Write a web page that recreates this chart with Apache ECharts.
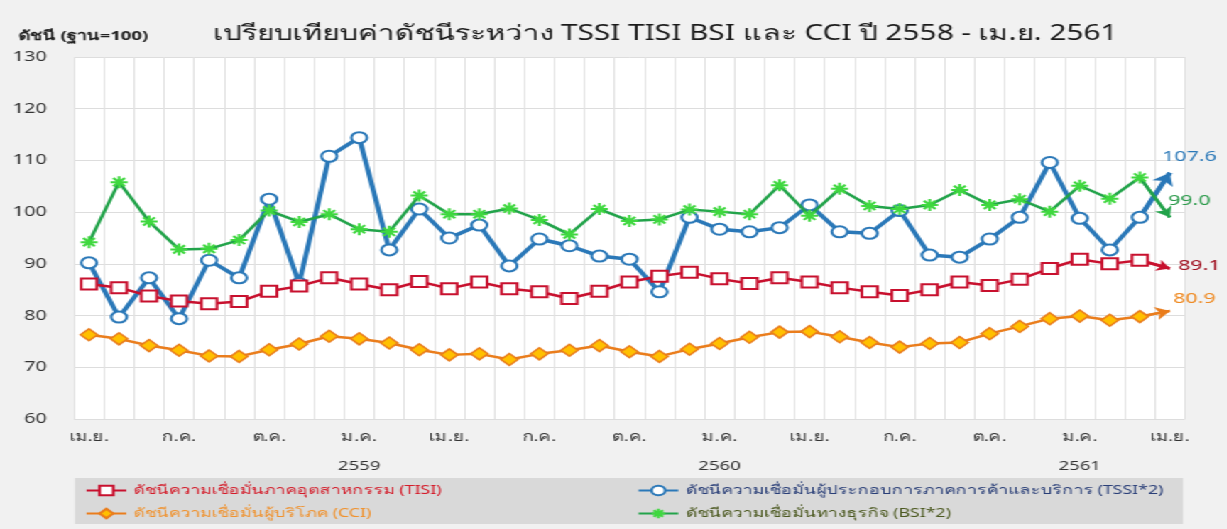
<!DOCTYPE html>
<html>
<head>
<meta charset="utf-8">
<script src="https://cdn.jsdelivr.net/npm/echarts@6/dist/echarts.min.js"></script>
<style>
html,body{margin:0;padding:0;background:#fff;overflow:hidden;}
#wrap{width:1227px;height:529px;overflow:hidden;}
#chart{width:864px;height:529px;transform:scaleX(1.42);transform-origin:0 0;}
</style>
</head>
<body>
<div id="wrap"><div id="chart"></div></div>
<script>
// ---- data ----
const categories = [
  'เม.ย. 2558','พ.ค. 2558','มิ.ย. 2558','ก.ค. 2558','ส.ค. 2558','ก.ย. 2558','ต.ค. 2558','พ.ย. 2558','ธ.ค. 2558',
  'ม.ค. 2559','ก.พ. 2559','มี.ค. 2559','เม.ย. 2559','พ.ค. 2559','มิ.ย. 2559','ก.ค. 2559','ส.ค. 2559','ก.ย. 2559','ต.ค. 2559','พ.ย. 2559','ธ.ค. 2559',
  'ม.ค. 2560','ก.พ. 2560','มี.ค. 2560','เม.ย. 2560','พ.ค. 2560','มิ.ย. 2560','ก.ค. 2560','ส.ค. 2560','ก.ย. 2560','ต.ค. 2560','พ.ย. 2560','ธ.ค. 2560',
  'ม.ค. 2561','ก.พ. 2561','มี.ค. 2561','เม.ย. 2561'
];
const tisi = [86.1,85.4,83.8,82.8,82.3,82.7,84.7,85.7,87.3,86.1,85.0,86.6,85.2,86.5,85.2,84.6,83.3,84.7,86.5,87.6,88.4,87.1,86.2,87.3,86.5,85.4,84.6,83.9,85.0,86.5,85.8,87.0,89.1,90.9,90.0,90.7,89.1];
const tssi = [90.2,79.7,87.3,79.4,90.7,87.3,102.5,86.2,110.8,114.4,92.7,100.6,95.0,97.5,89.6,94.8,93.5,91.5,90.9,84.6,99.0,96.7,96.2,97.0,101.4,96.2,95.9,100.3,91.7,91.3,94.8,99.0,109.6,98.8,92.7,99.0,107.6];
const cci  = [76.3,75.5,74.2,73.3,72.2,72.1,73.4,74.5,76.0,75.5,74.7,73.4,72.4,72.6,71.5,72.6,73.3,74.2,73.0,72.1,73.5,74.6,75.8,76.8,76.9,75.9,74.8,73.9,74.6,74.8,76.5,77.9,79.4,79.9,79.1,79.8,80.9];
const bsi  = [94.2,105.8,98.2,92.8,92.9,94.6,100.3,98.1,99.6,96.7,96.2,103.2,99.6,99.6,100.7,98.5,95.7,100.6,98.3,98.6,100.5,100.1,99.6,105.2,99.3,104.5,101.2,100.6,101.4,104.3,101.4,102.5,100.1,105.1,102.6,106.7,99.0];
const yTicks = [60,70,80,90,100,110,120,130];
const names = {
  tisi: 'ดัชนีความเชื่อมั่นภาคอุตสาหกรรม (TISI)',
  tssi: 'ดัชนีความเชื่อมั่นผู้ประกอบการภาคการค้าและบริการ (TSSI*2)',
  cci:  'ดัชนีความเชื่อมั่นผู้บริโภค (CCI)',
  bsi:  'ดัชนีความเชื่อมั่นทางธุรกิจ (BSI*2)'
};
const titleText = 'เปรียบเทียบค่าดัชนีระหว่าง TSSI TISI BSI และ CCI ปี 2558 - เม.ย. 2561';
const yName = 'ดัชนี (ฐาน=100)';

// ---- chart ----
const S = 1.42; // horizontal stretch of the reference picture
const X = (px) => px / S;
const FONT = '"Noto Sans", "DejaVu Sans", sans-serif';
const chart = echarts.init(document.getElementById('chart'), null, {renderer:'canvas'});
const last = categories.length - 1;
const starPath = 'path://M5,0L5,10M0,5L10,5M1.6,1.6L8.4,8.4M1.6,8.4L8.4,1.6';

function mkData(arr){
  return arr.map((v,i)=> i===last ? {value:v, symbol:'none'} : v);
}
function endLabel(color, off){
  return {show:true, fontFamily:FONT, fontSize:15, color:color, offset:off,
    formatter:(p)=>Number(p.value).toFixed(1)};
}
function lineSeries(key, arr, color, opts){
  return Object.assign({
    name: names[key], type:'line', data: mkData(arr),
    lineStyle:{color:color, width:2.5},
    itemStyle:{color:'#fff', borderColor:color, borderWidth:2},
    emphasis:{disabled:true}
  }, opts);
}
function arrowSeries(arr, color, width, size, z){
  return {
    type:'lines', coordinateSystem:'cartesian2d', silent:true, z:z,
    symbol:['none','arrow'], symbolSize:size,
    lineStyle:{color:color, width:width, opacity:1, curveness:0},
    data:[{coords:[[last-1, arr[last-1]],[last, arr[last]]]}]
  };
}

const option = {
  backgroundColor:'#f1f1f1',
  animation:false,
  textStyle:{fontFamily:FONT},
  title:[
    {text:yName, left:X(12), top:25, textStyle:{fontFamily:FONT, fontSize:13, fontWeight:'bold', color:'#222'}}
  ],
  grid:{left:X(74), right:X(42), top:57, bottom:110, show:true, backgroundColor:'#ffffff', borderWidth:0},
  graphic:[
    {type:'rect', z:-1, shape:{x:X(75), y:478, width:X(1108), height:46}, style:{fill:'#d9d9d9'}},
    {type:'text', x:X(665), y:34, style:{text:titleText, align:'center', verticalAlign:'middle',
      font:'normal 21px ' + FONT, fill:'#1a1a1a'}}
  ],
  legend:[
    {orient:'vertical', left:X(78), top:479, itemGap:10, itemWidth:28, itemHeight:12,
     textStyle:{fontFamily:FONT, fontSize:12.5},
     data:[{name:names.tisi, textStyle:{color:'#d41c2a'}}, {name:names.cci, textStyle:{color:'#f0922e'}}]},
    {orient:'vertical', left:X(630), top:479, itemGap:10, itemWidth:28, itemHeight:12,
     textStyle:{fontFamily:FONT, fontSize:12.5},
     data:[{name:names.tssi, textStyle:{color:'#2a3f78'}}, {name:names.bsi, textStyle:{color:'#4d5a22'}}]}
  ],
  xAxis:{
    type:'category', data:categories, boundaryGap:true,
    axisLine:{show:false}, axisTick:{show:false},
    splitLine:{show:true, interval:0, lineStyle:{color:'#e2e2e2', width:1}},
    axisLabel:{
      interval:2, margin:9, fontFamily:FONT, fontSize:13, color:'#333',
      formatter:(val)=>{
        const parts = val.split(' ');
        if(parts[0]==='ม.ค.') return '{m|'+parts[0]+'}\n{y|'+parts[1]+'}';
        return '{m|'+parts[0]+'}';
      },
      rich:{m:{fontFamily:FONT, fontSize:13, color:'#333', lineHeight:18},
            y:{fontFamily:FONT, fontSize:13, color:'#333', lineHeight:40}}
    }
  },
  yAxis:{
    type:'value', min:yTicks[0], max:yTicks[yTicks.length-1], interval:10,
    axisLine:{show:false}, axisTick:{show:false},
    splitLine:{lineStyle:{color:'#dddddd'}},
    axisLabel:{margin:X(27), fontFamily:FONT, fontSize:14, color:'#333'}
  },
  series:[
    lineSeries('tssi', tssi, '#2a78b8', {symbol:'circle', symbolSize:11, lineStyle:{color:'#2a78b8', width:3.5}, z:2,
      endLabel:endLabel('#2a78b8', [X(-19), -16])}),
    lineSeries('tisi', tisi, '#c8102e', {symbol:'rect', symbolSize:11, z:3,
      endLabel:endLabel('#a01020', [X(-3), -3])}),
    lineSeries('cci', cci, '#ea7d1c', {symbol:'diamond', symbolSize:12, z:3,
      itemStyle:{color:'#ffc000', borderColor:'#ea7d1c', borderWidth:1.5},
      endLabel:endLabel('#ef8a22', [X(-8), -12])}),
    lineSeries('bsi', bsi, '#22a34a', {symbol:starPath, symbolSize:12, z:4,
      itemStyle:{color:'#3fd83f', borderColor:'#3fd83f', borderWidth:2},
      endLabel:endLabel('#2a9a4a', [X(-13), -17])}),
    arrowSeries(tssi, '#2a78b8', 3.5, 12, 2),
    arrowSeries(tisi, '#c8102e', 2.5, 9, 3),
    arrowSeries(cci, '#ea7d1c', 2.5, 10, 3),
    arrowSeries(bsi, '#22a34a', 2.5, 10, 4)
  ]
};
chart.setOption(option);
</script>
</body>
</html>
